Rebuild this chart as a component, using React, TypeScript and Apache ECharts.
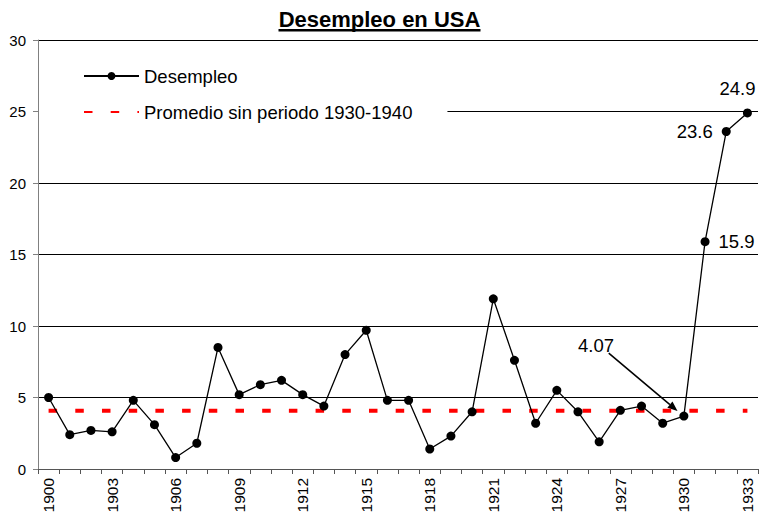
import React, { useEffect, useRef } from "react";
import * as echarts from "echarts";

const YEARS = [
  "1900", "1901", "1902", "1903", "1904", "1905", "1906", "1907", "1908", "1909",
  "1910", "1911", "1912", "1913", "1914", "1915", "1916", "1917", "1918", "1919",
  "1920", "1921", "1922", "1923", "1924", "1925", "1926", "1927", "1928", "1929",
  "1930", "1931", "1932", "1933",
];

const UNEMPLOYMENT = [
  5.0, 2.4, 2.7, 2.6, 4.8, 3.1, 0.8, 1.8, 8.5, 5.2,
  5.9, 6.2, 5.2, 4.4, 8.0, 9.7, 4.8, 4.8, 1.4, 2.3,
  4.0, 11.9, 7.6, 3.2, 5.5, 4.0, 1.9, 4.1, 4.4, 3.2,
  3.7, 15.9, 23.6, 24.9,
];

const AVERAGE = 4.07;
const AVERAGE_LINE = YEARS.map(() => AVERAGE);

// labelled points: index -> label position
const LABELED_POINTS: Record<number, string> = { 31: "right", 32: "left", 33: "top" };

// annotation arrow (category index, value)
const ARROW_FROM = [26.45, 8.1];
const ARROW_TO = [29.7, 4.05];
const ANNOTATION_AT = [25.85, 8.65];
const ANNOTATION_TEXT = "4.07";

const TITLE = "Desempleo en USA";
const SERIES_MAIN = "Desempleo";
const SERIES_AVG = "Promedio sin periodo 1930-1940";

const FONT = 'Arial, "Liberation Sans", Helvetica, sans-serif';

export default function App() {
  const ref = useRef<HTMLDivElement>(null);

  useEffect(() => {
    document.body.style.margin = "0";
    if (!ref.current) return;
    const chart = echarts.init(ref.current, undefined, { renderer: "svg" });

    const mainData = UNEMPLOYMENT.map((v, i) => {
      const pos = LABELED_POINTS[i];
      if (!pos) return v;
      return {
        value: v,
        label: {
          show: true,
          position: pos,
          distance: pos === "top" ? 10 : 9,
          offset: pos === "top" ? [-10, 0] : [0, 0],
          formatter: "{c}",
          fontSize: 18.5,
          color: "#000",
          fontFamily: FONT,
        },
      };
    });

    chart.setOption({
      animation: false,
      backgroundColor: "#fff",
      title: {
        text: TITLE,
        left: "center",
        top: 3,
        textStyle: { fontSize: 22, fontWeight: "bold", color: "#000", fontFamily: FONT },
      },
      grid: { left: 38, right: 1, top: 40, bottom: 47, containLabel: false },
      legend: {
        orient: "vertical",
        left: 39,
        top: 50,
        padding: [16, 35, 12, 44],
        backgroundColor: "#fff",
        itemWidth: 55,
        itemHeight: 10,
        itemGap: 16,
        selectedMode: false,
        textStyle: { fontSize: 18.5, color: "#000", fontFamily: FONT, lineHeight: 20 },
        data: [
          { name: SERIES_MAIN },
          {
            name: SERIES_AVG,
            itemStyle: { color: "rgba(0,0,0,0)", opacity: 0, borderWidth: 0 },
          },
        ],
      },
      xAxis: {
        type: "category",
        data: YEARS,
        boundaryGap: true,
        axisLine: { lineStyle: { color: "#555", width: 1 } },
        axisTick: { show: true, interval: 0, length: 5, lineStyle: { color: "#555" } },
        axisLabel: { interval: 2, rotate: 90, fontSize: 15.5, margin: 9, color: "#000", fontFamily: FONT },
        splitLine: { show: false },
      },
      yAxis: {
        type: "value",
        min: 0,
        max: 30,
        interval: 5,
        axisLine: { show: true, lineStyle: { color: "#808080" } },
        axisTick: { show: true, length: 5, lineStyle: { color: "#808080" } },
        axisLabel: { fontSize: 15, color: "#000", margin: 12, fontFamily: FONT },
        splitLine: { lineStyle: { color: "#000", width: 1 } },
      },
      series: [
        {
          name: SERIES_AVG,
          type: "line",
          data: AVERAGE_LINE,
          symbol: "none",
          showSymbol: false,
          silent: true,
          z: 2,
          lineStyle: { color: "#ff0000", width: 4, type: [8.5, 18.2] },
          itemStyle: { color: "#ff0000" },
        },
        {
          name: SERIES_MAIN,
          type: "line",
          data: mainData,
          symbol: "circle",
          symbolSize: 9,
          z: 3,
          lineStyle: { color: "#000", width: 1.3 },
          itemStyle: { color: "#000" },
        },
      ],
    });

    const toPx = (idx: number, val: number) => {
      const i0 = Math.floor(idx);
      const p0 = chart.convertToPixel({ xAxisIndex: 0, yAxisIndex: 0 }, [i0, val]) as number[];
      const p1 = chart.convertToPixel({ xAxisIndex: 0, yAxisIndex: 0 }, [i0 + 1, val]) as number[];
      return [p0[0] + (p1[0] - p0[0]) * (idx - i0), p0[1]];
    };

    const a = toPx(ARROW_FROM[0], ARROW_FROM[1]);
    const b = toPx(ARROW_TO[0], ARROW_TO[1]);
    const dx = b[0] - a[0];
    const dy = b[1] - a[1];
    const len = Math.sqrt(dx * dx + dy * dy);
    const ux = dx / len;
    const uy = dy / len;
    const headLen = 10;
    const headHalf = 4;
    const base = [b[0] - ux * headLen, b[1] - uy * headLen];
    const nx = -uy;
    const ny = ux;
    const t = toPx(ANNOTATION_AT[0], ANNOTATION_AT[1]);

    chart.setOption({
      graphic: [
        {
          type: "rect",
          left: "center",
          top: 29,
          shape: { width: 202, height: 2.5 },
          style: { fill: "#000" },
          silent: true,
        },
        {
          type: "line",
          shape: { x1: a[0], y1: a[1], x2: base[0], y2: base[1] },
          style: { stroke: "#000", lineWidth: 1.5 },
          silent: true,
        },
        {
          type: "polygon",
          shape: {
            points: [
              [b[0], b[1]],
              [base[0] + nx * headHalf, base[1] + ny * headHalf],
              [base[0] - nx * headHalf, base[1] - ny * headHalf],
            ],
          },
          style: { fill: "#000" },
          silent: true,
        },
        {
          type: "text",
          x: t[0],
          y: t[1],
          style: {
            text: ANNOTATION_TEXT,
            fontSize: 18.5,
            fontFamily: FONT,
            fill: "#000",
            align: "center",
            verticalAlign: "middle",
          },
          silent: true,
        },
      ],
    });

    return () => {
      chart.dispose();
    };
  }, []);

  return <div ref={ref} style={{ width: 759, height: 516 }} />;
}
